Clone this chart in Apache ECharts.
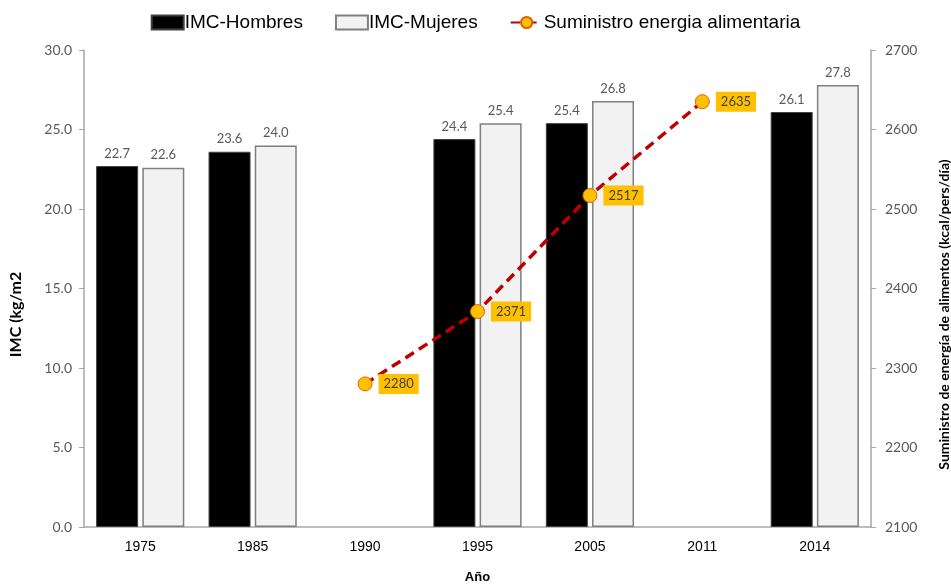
<!DOCTYPE html>
<html>
<head>
<meta charset="utf-8">
<script src="https://cdn.jsdelivr.net/npm/echarts@6/dist/echarts.min.js"></script>
<style>
  html, body { margin: 0; padding: 0; background: #fff; }
  #chart { width: 951px; height: 586px; }
</style>
</head>
<body>
<div id="chart"></div>
<script>
// Years on the category axis
const years = ['1975', '1985', '1990', '1995', '2005', '2011', '2014'];
// Body mass index (kg/m2) by sex; null where no survey exists
const imcHombres = [22.7, 23.6, null, 24.4, 25.4, null, 26.1];
const imcMujeres = [22.6, 24.0, null, 25.4, 26.8, null, 27.8];
// Dietary energy supply (kcal/person/day)
const suministro = [null, null, 2280, 2371, 2517, 2635, null];

const grey = '#595959';
const axisGrey = '#a6a6a6';
const numFont = 'Lato, "Open Sans", sans-serif';
const txtFont = '"Liberation Sans", Arial, sans-serif';

const chart = echarts.init(document.getElementById('chart'));
chart.setOption({
  animation: false,
  legend: {
    top: 8,
    left: 'center',
    itemGap: 32,
    itemWidth: 32,
    itemHeight: 14,
    textStyle: { fontFamily: txtFont, fontSize: 19, color: '#000', padding: [0, 0, 0, -4] },
    data: [
      { name: 'IMC-Hombres', icon: 'rect' },
      { name: 'IMC-Mujeres', icon: 'rect' },
      { name: 'Suministro energia alimentaria' }
    ]
  },
  grid: { left: 84, right: 80, top: 50, bottom: 59, outerBoundsMode: 'none' },
  xAxis: {
    type: 'category',
    data: years,
    name: 'Año',
    nameLocation: 'middle',
    nameGap: 44,
    nameTextStyle: { fontFamily: txtFont, fontSize: 13, fontWeight: 'bold', color: '#000' },
    axisLine: { lineStyle: { color: axisGrey, width: 1.5 } },
    axisTick: { show: false },
    axisLabel: { fontFamily: txtFont, fontSize: 14, color: '#000', margin: 13 }
  },
  yAxis: [
    {
      type: 'value',
      min: 0, max: 30, interval: 5,
      name: 'IMC (kg/m2',
      nameLocation: 'middle',
      nameGap: 60,
      nameTextStyle: { fontFamily: numFont, fontSize: 16, fontWeight: 'bold', color: '#000',
        padding: [0, 52, 0, 0] },
      axisLine: { show: true, lineStyle: { color: axisGrey, width: 1.5 } },
      axisTick: { show: true, inside: false, length: 5, lineStyle: { color: axisGrey } },
      splitLine: { show: false },
      axisLabel: { fontFamily: numFont, fontSize: 14, color: grey, margin: 12,
        formatter: v => v.toFixed(1) }
    },
    {
      type: 'value',
      min: 2100, max: 2700, interval: 100,
      name: 'Suministro de energía de alimentos (kcal/pers/día)',
      nameLocation: 'middle',
      nameGap: 66,
      nameRotate: 90,
      nameTextStyle: { fontFamily: numFont, fontSize: 14, fontWeight: 'bold', color: '#000',
        padding: [0, 52, 0, 0] },
      position: 'right',
      axisLine: { show: true, lineStyle: { color: axisGrey, width: 1.5 } },
      axisTick: { show: true, inside: false, length: 5, lineStyle: { color: axisGrey } },
      splitLine: { show: false },
      axisLabel: { fontFamily: numFont, fontSize: 14, color: grey, margin: 14,
        formatter: v => String(v) }
    }
  ],
  series: [
    {
      name: 'IMC-Hombres',
      type: 'bar',
      data: imcHombres,
      barWidth: 42,
      barGap: '10%',
      itemStyle: { color: '#000', borderColor: '#404040', borderWidth: 1 },
      label: { show: true, position: 'top', distance: 6, color: grey, fontFamily: numFont, fontSize: 13,
        formatter: p => p.value.toFixed(1) }
    },
    {
      name: 'IMC-Mujeres',
      type: 'bar',
      data: imcMujeres,
      barWidth: 42,
      barGap: '10%',
      itemStyle: { color: '#f2f2f2', borderColor: '#7f7f7f', borderWidth: 1.5 },
      label: { show: true, position: 'top', distance: 6, color: grey, fontFamily: numFont, fontSize: 13,
        formatter: p => p.value.toFixed(1) }
    },
    {
      name: 'Suministro energia alimentaria',
      type: 'line',
      yAxisIndex: 1,
      data: suministro,
      symbol: 'circle',
      symbolSize: 14,
      lineStyle: { color: '#c00000', width: 3.5, type: [10, 6] },
      itemStyle: { color: '#ffc000', borderColor: '#e06000', borderWidth: 1 },
      label: {
        show: true, position: 'right', distance: 6,
        backgroundColor: '#ffc000', color: '#404040',
        fontFamily: numFont, fontSize: 13,
        padding: [4, 5, 3, 5]
      },
      z: 5
    }
  ]
});
</script>
</body>
</html>
